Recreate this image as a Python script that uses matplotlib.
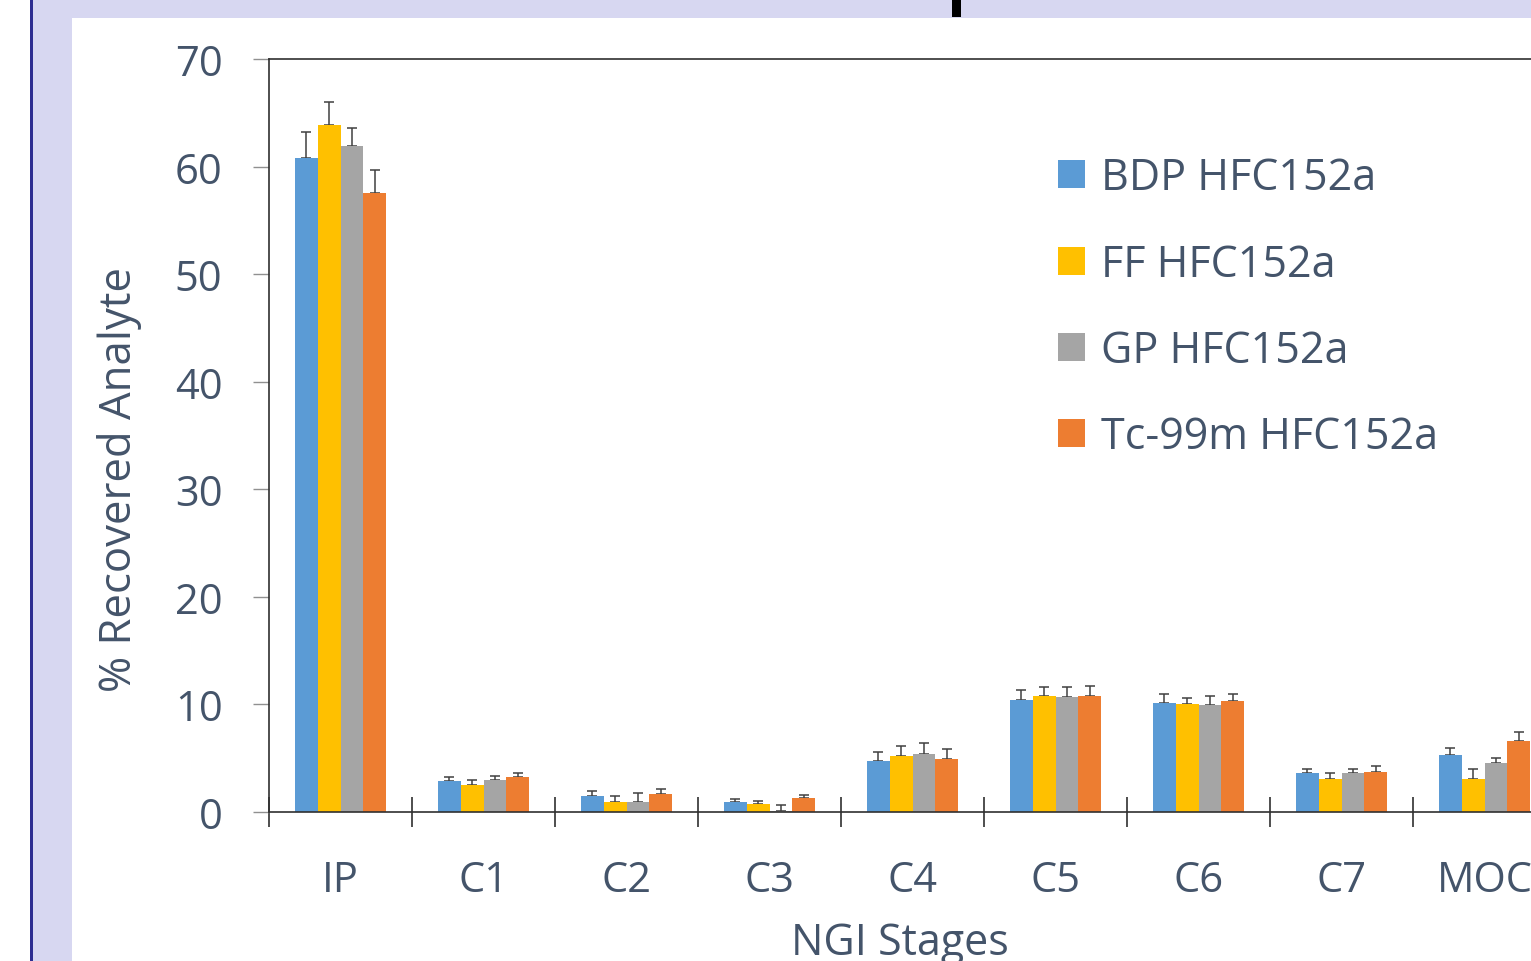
import matplotlib
matplotlib.use("Agg")
import matplotlib.pyplot as plt
from matplotlib.patches import Rectangle
import numpy as np

# % of analyte recovered on each NGI stage (mean, upper SD)
stages = ['IP', 'C1', 'C2', 'C3', 'C4', 'C5', 'C6', 'C7', 'MOC']
bdp = [60.8, 2.9, 1.5, 0.9, 4.7, 10.4, 10.1, 3.6, 5.3]
bdp_sd = [2.4, 0.4, 0.45, 0.3, 0.9, 0.9, 0.85, 0.4, 0.65]
ff = [63.9, 2.5, 0.9, 0.7, 5.2, 10.75, 10.0, 3.1, 3.1]
ff_sd = [2.1, 0.45, 0.55, 0.3, 0.95, 0.9, 0.6, 0.5, 0.9]
gp = [61.9, 3.0, 0.9, 0.05, 5.4, 10.7, 9.95, 3.6, 4.6]
gp_sd = [1.7, 0.35, 0.9, 0.6, 1.0, 0.95, 0.85, 0.4, 0.45]
tc = [57.5, 3.3, 1.7, 1.3, 4.9, 10.8, 10.3, 3.7, 6.6]
tc_sd = [2.2, 0.3, 0.45, 0.25, 0.95, 0.95, 0.7, 0.55, 0.85]

series = [
    ('BDP HFC152a', bdp, bdp_sd, '#5B9BD5'),
    ('FF HFC152a', ff, ff_sd, '#FFC000'),
    ('GP HFC152a', gp, gp_sd, '#A5A5A5'),
    ('Tc-99m HFC152a', tc, tc_sd, '#ED7D31'),
]

plt.rcParams['font.family'] = ['Open Sans', 'DejaVu Sans']
txt = '#44546A'
W, H = 1531, 962

fig = plt.figure(figsize=(W / 100, H / 100), dpi=100, facecolor='white')

# poster frame behind the chart
fig.patches.append(Rectangle((33 / W, 0), 1, 1, transform=fig.transFigure,
                             facecolor='#D7D7F1', edgecolor='none', zorder=-3))
fig.patches.append(Rectangle((30 / W, 0), 3 / W, 1, transform=fig.transFigure,
                             facecolor='#2D2D91', edgecolor='none', zorder=-2))
fig.patches.append(Rectangle((72 / W, 0), 1, 1 - 19 / H, transform=fig.transFigure,
                             facecolor='white', edgecolor='none', zorder=-2))
fig.patches.append(Rectangle((952 / W, 1 - 18 / H), 9 / W, 18 / H, transform=fig.transFigure,
                             facecolor='black', edgecolor='none', zorder=-1))

ax = fig.add_axes([269 / W, 149 / H, 1287 / W, 753 / H])
ax.set_facecolor('none')

x = np.arange(len(stages))
bw = 0.16
for i, (name, vals, sd, col) in enumerate(series):
    pos = x + (i - 1.5) * bw
    ax.bar(pos, vals, bw, color=col, label=name, zorder=2)
    ax.errorbar(pos, vals, yerr=[np.zeros(len(vals)), sd], fmt='none',
                ecolor='#404040', elinewidth=1.1, capsize=3.5, capthick=1.1, zorder=1)

ax.set_xlim(-0.5, len(stages) - 0.5)
ax.set_ylim(0, 70)
ax.set_yticks(range(0, 71, 10))
ax.set_xticks(x)
ax.set_xticklabels(stages)
ax.set_xticks(np.arange(-0.5, len(stages), 1), minor=True)

ax.tick_params(axis='y', direction='out', length=11.5, width=1, color='#909090',
               labelsize=30, labelcolor=txt, pad=22)
ax.tick_params(axis='x', which='major', length=0, labelsize=30, labelcolor=txt, pad=34)
ax.tick_params(axis='x', which='minor', direction='inout', length=22, width=1.2,
               color='#303030')

for s in ['left', 'bottom', 'top']:
    ax.spines[s].set_color('#303030')
    ax.spines[s].set_linewidth(1.2)
ax.spines['right'].set_visible(False)

fig.text(120 / W, 1 - 480 / H, '% Recovered Analyte', rotation=90,
         ha='center', va='center', fontsize=31.5, color=txt)
fig.text(900 / W, 1 - 944 / H, 'NGI Stages', ha='center', va='center',
         fontsize=31, color=txt)

ax.legend(loc='upper left', bbox_to_anchor=(1058 / W, 1 - 157 / H),
          bbox_transform=fig.transFigure, frameon=False, fontsize=31,
          labelcolor=txt, handlelength=0.62, handleheight=0.62,
          handletextpad=0.38, labelspacing=0.97, borderpad=0, borderaxespad=0)

fig.savefig('out.png', dpi=100)
